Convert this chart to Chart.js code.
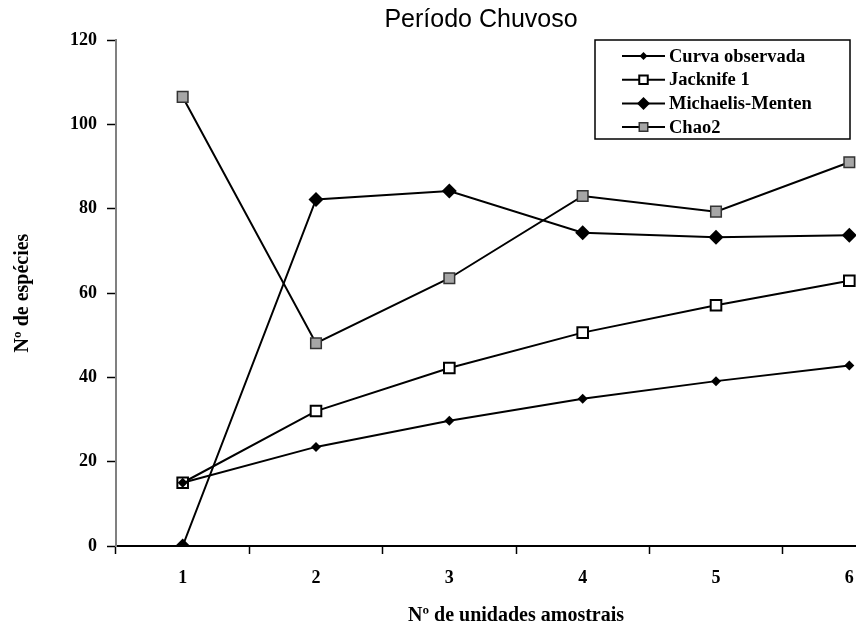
<!DOCTYPE html>
<html>
<head>
<meta charset="utf-8">
<script src="https://cdn.jsdelivr.net/npm/chart.js@4"></script>
<style>
  body { margin: 0; background: #fff; }
  /* the original plot runs past the right edge of the picture, so the canvas is wider and clipped */
  #clip { width: 856px; height: 630px; overflow: hidden; }
  #wrap { width: 962px; height: 630px; position: relative; }
</style>
</head>
<body>
<div id="clip"><div id="wrap"><canvas id="chart"></canvas></div></div>
<script>
const categories = ['1', '2', '3', '4', '5', '6'];
const curvaObservada = [15, 23.5, 29.7, 34.9, 39.1, 42.8];
const jacknife1 = [15, 32, 42.2, 50.6, 57.1, 62.9];
const michaelisMenten = [0, 82.2, 84.2, 74.3, 73.2, 73.7];
const chao2 = [106.5, 48.1, 63.5, 83, 79.3, 91];
const yTicks = [0, 20, 40, 60, 80, 100, 120];

const serif = '"Liberation Serif", "Times New Roman", serif';

function drawMarker(ctx, style, x, y, r, fill, stroke, bw) {
    ctx.save();
    ctx.fillStyle = fill;
    ctx.strokeStyle = stroke;
    ctx.lineWidth = bw;
    ctx.beginPath();
    if (style === 'rectRot') {
        ctx.moveTo(x, y - r);
        ctx.lineTo(x + r, y);
        ctx.lineTo(x, y + r);
        ctx.lineTo(x - r, y);
    } else {
        const s = r * Math.SQRT1_2;
        ctx.rect(x - s, y - s, 2 * s, 2 * s);
    }
    ctx.closePath();
    ctx.fill();
    if (bw > 0) ctx.stroke();
    ctx.restore();
}

// legend like the original: short line with the marker in the middle
const boxLegend = {
    id: 'boxLegend',
    afterDraw(chart) {
        const { ctx, chartArea } = chart;
        const w = 255, h = 99;
        const x0 = chartArea.right - 66 - w;
        const y0 = chartArea.top;
        ctx.save();
        ctx.fillStyle = '#fff';
        ctx.fillRect(x0, y0, w, h);
        ctx.strokeStyle = '#000';
        ctx.lineWidth = 1.5;
        ctx.strokeRect(x0, y0, w, h);
        ctx.font = 'bold 18.5px ' + serif;
        ctx.textBaseline = 'middle';
        chart.data.datasets.forEach((ds, i) => {
            const y = y0 + 16 + i * 23.7;
            ctx.strokeStyle = '#000';
            ctx.lineWidth = 2;
            ctx.beginPath();
            ctx.moveTo(x0 + 27, y);
            ctx.lineTo(x0 + 70, y);
            ctx.stroke();
            drawMarker(ctx, ds.pointStyle, x0 + 48.5, y, ds.legendRadius,
                ds.pointBackgroundColor, ds.pointBorderColor, ds.pointBorderWidth);
            ctx.fillStyle = '#000';
            ctx.fillText(ds.label, x0 + 74, y + 1);
        });
        ctx.restore();
    }
};

new Chart(document.getElementById('chart'), {
    type: 'line',
    data: {
        labels: categories,
        datasets: [
            {
                label: 'Curva observada',
                data: curvaObservada,
                borderColor: '#000', borderWidth: 2,
                pointStyle: 'rectRot', pointRadius: 5,
                pointBackgroundColor: '#000', pointBorderColor: '#000', pointBorderWidth: 0,
                legendRadius: 4
            },
            {
                label: 'Jacknife 1',
                data: jacknife1,
                borderColor: '#000', borderWidth: 2,
                pointStyle: 'rect', pointRadius: 7.5,
                pointBackgroundColor: '#fff', pointBorderColor: '#000', pointBorderWidth: 2,
                legendRadius: 6
            },
            {
                label: 'Michaelis-Menten',
                data: michaelisMenten,
                borderColor: '#000', borderWidth: 2,
                pointStyle: 'rectRot', pointRadius: 7.5,
                pointBackgroundColor: '#000', pointBorderColor: '#000', pointBorderWidth: 0,
                legendRadius: 6.5
            },
            {
                label: 'Chao2',
                data: chao2,
                borderColor: '#000', borderWidth: 2,
                pointStyle: 'rect', pointRadius: 7.5,
                pointBackgroundColor: '#a6a6a6', pointBorderColor: '#333', pointBorderWidth: 1.5,
                legendRadius: 6
            }
        ]
    },
    options: {
        responsive: true,
        maintainAspectRatio: false,
        animation: false,
        layout: { padding: 0 },
        elements: { line: { tension: 0 } },
        plugins: {
            legend: { display: false },
            tooltip: { enabled: false },
            title: {
                display: true,
                text: 'Período Chuvoso',
                color: '#000',
                font: { family: '"Liberation Sans", Arial, sans-serif', size: 25, weight: 'normal' },
                padding: { top: 5, bottom: 5 }
            }
        },
        scales: {
            x: {
                type: 'category',
                offset: true,
                afterFit(scale) {
                    scale.height = 84;
                    scale.paddingLeft = 0;
                    // keeps the title centred on the whole canvas while the plot stops at 916px
                    scale.paddingRight = 46;
                },
                border: { color: '#000', width: 2 },
                grid: {
                    offset: true,
                    drawOnChartArea: false,
                    drawTicks: true,
                    tickLength: 8,
                    tickWidth: 1.5,
                    tickColor: '#000'
                },
                ticks: {
                    maxRotation: 0,
                    padding: 14,
                    color: '#000',
                    font: { family: serif, weight: 'bold', size: 18 }
                },
                title: {
                    display: true,
                    text: 'Nº de unidades amostrais',
                    color: '#000',
                    font: { family: serif, weight: 'bold', size: 20 },
                    padding: { top: 0, bottom: 2 }
                }
            },
            y: {
                min: 0,
                max: 120,
                afterBuildTicks(scale) { scale.ticks = yTicks.map(v => ({ value: v })); },
                afterFit(scale) {
                    scale.width = 116;
                    scale.paddingTop = 0;
                    scale.paddingBottom = 0;
                },
                border: { color: '#808080', width: 2 },
                grid: {
                    drawOnChartArea: false,
                    drawTicks: true,
                    tickLength: 9,
                    tickWidth: 1.5,
                    tickColor: '#000'
                },
                ticks: {
                    padding: 10,
                    color: '#000',
                    font: { family: serif, weight: 'bold', size: 18 }
                },
                title: {
                    display: true,
                    text: 'Nº de espécies',
                    color: '#000',
                    font: { family: serif, weight: 'bold', size: 20 },
                    padding: { top: 11, bottom: 0 }
                }
            }
        }
    },
    plugins: [boxLegend]
});
</script>
</body>
</html>
